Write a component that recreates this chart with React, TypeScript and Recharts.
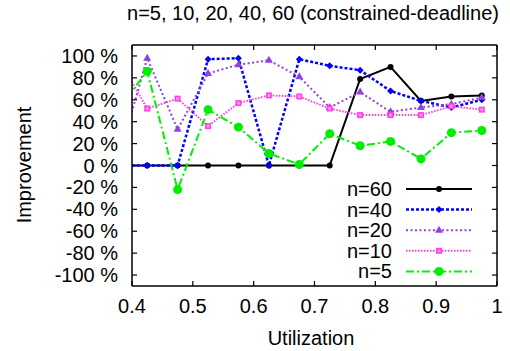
import { LineChart, Line, XAxis, YAxis, Legend, Label } from "recharts";

// utilization points (first one sits left of the axis range and is clipped)
const utilization = [0.375, 0.425, 0.475, 0.525, 0.575, 0.625, 0.675, 0.725, 0.775, 0.825, 0.875, 0.925, 0.975];
const n60 = [0, 0, 0, 0, 0, 0, 0, 0, 79, 90, 59, 63, 64];
const n40 = [0, 0, 0, 97, 98, 0, 97, 91, 87, 68, 59, 53, 60];
const n20 = [1, 98, 33, 84, 92, 96, 81, 53, 67, 49, 53, 56, 62];
const n10 = [100, 52, 61, 36, 57, 64, 63, 52, 46, 46, 46, 54, 51];
const n5 = [50, 86, -22, 51, 35, 11, 1, 29, 18, 22, 6, 30, 32];

const xTicks = [0.4, 0.5, 0.6, 0.7, 0.8, 0.9, 1];
const yTicks = [-100, -80, -60, -40, -20, 0, 20, 40, 60, 80, 100];

const FONT = '"Liberation Sans", Arial, Helvetica, sans-serif';

const data = utilization.map((u, i) => ({
  u,
  n60: n60[i],
  n40: n40[i],
  n20: n20[i],
  n10: n10[i],
  n5: n5[i],
}));

type Shape = "circle" | "diamond" | "triangle" | "square" | "bigcircle";

const series: { key: string; name: string; color: string; dash?: string; width: number; shape: Shape }[] = [
  { key: "n60", name: "n=60", color: "#000000", width: 2, shape: "circle" },
  { key: "n40", name: "n=40", color: "#0000ff", dash: "3 2", width: 2.5, shape: "diamond" },
  { key: "n20", name: "n=20", color: "#9440e0", dash: "2 2.5", width: 2, shape: "triangle" },
  { key: "n10", name: "n=10", color: "#ff40e0", dash: "1.5 1.5", width: 2, shape: "square" },
  { key: "n5", name: "n=5", color: "#00ee00", dash: "8 3 2 3", width: 2, shape: "bigcircle" },
];

function Marker({ cx, cy, shape, color }: { cx: number; cy: number; shape: Shape; color: string }) {
  if (cx == null || cy == null || isNaN(cx) || isNaN(cy)) return null;
  switch (shape) {
    case "circle":
      return <circle cx={cx} cy={cy} r={3} fill={color} />;
    case "bigcircle":
      return <circle cx={cx} cy={cy} r={4.5} fill={color} />;
    case "diamond":
      return <polygon points={`${cx},${cy - 3.5} ${cx + 3.5},${cy} ${cx},${cy + 3.5} ${cx - 3.5},${cy}`} fill={color} />;
    case "triangle":
      return <polygon points={`${cx},${cy - 4.5} ${cx + 4},${cy + 2.5} ${cx - 4},${cy + 2.5}`} fill={color} />;
    case "square":
      return (
        <g>
          <rect x={cx - 3} y={cy - 3} width={6} height={6} fill={color} />
          <rect x={cx - 1.5} y={cy - 1.5} width={3} height={3} fill="#ff90f0" />
        </g>
      );
  }
  return null;
}

const BottomTick = (p: any) => (
  <g>
    <line x1={p.x} x2={p.x} y1={p.y} y2={p.y - 5} stroke="#000" strokeWidth={1.2} />
    <text x={p.x} y={p.y + 27} textAnchor="middle" fontSize={20} fontFamily={FONT} fill="#000">
      {String(p.payload.value)}
    </text>
  </g>
);

const TopTick = (p: any) => (
  <line x1={p.x} x2={p.x} y1={p.y} y2={p.y + 5} stroke="#000" strokeWidth={1.2} />
);

const LeftTick = (p: any) => (
  <g>
    <line x1={p.x} x2={p.x + 5} y1={p.y} y2={p.y} stroke="#000" strokeWidth={1.2} />
    <text x={p.x - 14} y={p.y + 7} textAnchor="end" fontSize={20} fontFamily={FONT} fill="#000">
      {`${p.payload.value} %`}
    </text>
  </g>
);

const RightTick = (p: any) => (
  <line x1={p.x} x2={p.x - 5} y1={p.y} y2={p.y} stroke="#000" strokeWidth={1.2} />
);

const renderLegend = () => (
  <svg width={200} height={110} style={{ display: "block" }}>
    {series.map((s, i) => {
      const y = 11 + i * 20.6;
      return (
        <g key={s.key}>
          <text x={92} y={y + 7} textAnchor="end" fontSize={20} fontFamily={FONT} fill="#000">
            {s.name}
          </text>
          <line x1={106} x2={172} y1={y} y2={y} stroke={s.color} strokeWidth={s.width} strokeDasharray={s.dash} />
          <Marker cx={139} cy={y} shape={s.shape} color={s.color} />
        </g>
      );
    })}
  </svg>
);

export default function App() {
  return (
    <div style={{ position: "absolute", left: 0, top: 0, background: "#fff" }}>
      <LineChart width={510} height={351} data={data} margin={{ top: 44, right: 12, bottom: 0, left: 0 }}>
        <XAxis
          xAxisId="bottom"
          dataKey="u"
          type="number"
          domain={[0.4, 1]}
          ticks={xTicks}
          interval={0}
          allowDataOverflow
          height={65}
          tickSize={0}
          tickMargin={0}
          tick={BottomTick}
          axisLine={{ stroke: "#000", strokeWidth: 1.5 }}
        >
          <Label
            content={() => (
              <text x={311} y={345} textAnchor="middle" fontSize={20} fontFamily={FONT} fill="#000">
                Utilization
              </text>
            )}
          />
        </XAxis>
        <XAxis
          xAxisId="top"
          dataKey="u"
          type="number"
          orientation="top"
          domain={[0.4, 1]}
          ticks={xTicks}
          interval={0}
          allowDataOverflow
          height={1}
          tickSize={0}
          tickMargin={0}
          tick={TopTick}
          axisLine={{ stroke: "#000", strokeWidth: 1.5 }}
        >
          <Label
            content={() => (
              <text x={313} y={20} textAnchor="middle" fontSize={20} fontFamily={FONT} fill="#000">
                n=5, 10, 20, 40, 60 (constrained-deadline)
              </text>
            )}
          />
        </XAxis>
        <YAxis
          yAxisId="left"
          type="number"
          domain={[-110, 110]}
          ticks={yTicks}
          interval={0}
          allowDataOverflow
          width={132}
          tickSize={0}
          tickMargin={0}
          tick={LeftTick}
          axisLine={{ stroke: "#000", strokeWidth: 1.5 }}
        >
          <Label
            content={() => (
              <text
                x={31}
                y={165}
                textAnchor="middle"
                fontSize={20}
                fontFamily={FONT}
                fill="#000"
                transform="rotate(-90 31 165)"
              >
                Improvement
              </text>
            )}
          />
        </YAxis>
        <YAxis
          yAxisId="right"
          orientation="right"
          type="number"
          domain={[-110, 110]}
          ticks={yTicks}
          interval={0}
          allowDataOverflow
          width={1}
          tickSize={0}
          tickMargin={0}
          tick={RightTick}
          axisLine={{ stroke: "#000", strokeWidth: 1.5 }}
        />
        <Legend
          layout="vertical"
          align="center"
          verticalAlign="middle"
          content={renderLegend}
          wrapperStyle={{ left: 300, top: 178, width: 200, height: 110 }}
        />
        {series.map((s) => (
          <Line
            key={s.key}
            xAxisId="bottom"
            yAxisId="left"
            dataKey={s.key}
            name={s.name}
            type="linear"
            stroke={s.color}
            strokeWidth={s.width}
            strokeDasharray={s.dash}
            isAnimationActive={false}
            activeDot={false}
            dot={(p: any) => <Marker key={p.index} cx={p.cx} cy={p.cy} shape={s.shape} color={s.color} />}
          />
        ))}
      </LineChart>
    </div>
  );
}
